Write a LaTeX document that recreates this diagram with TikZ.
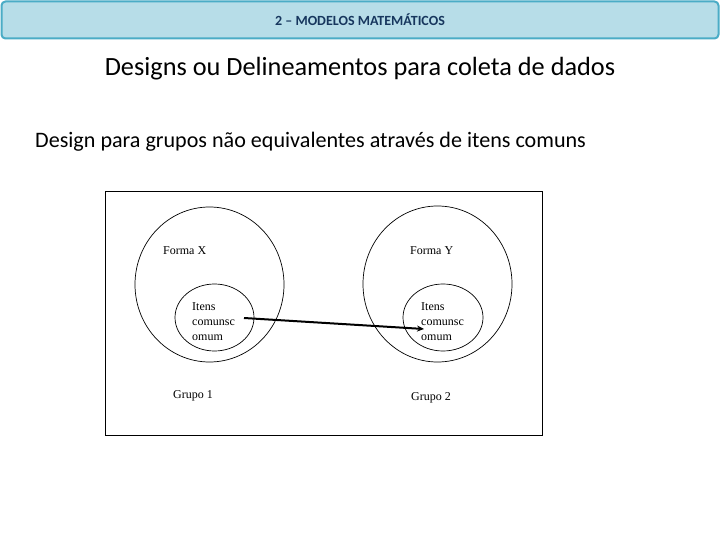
\documentclass[tikz,border=0pt]{standalone}
\usepackage{fontspec}
\setmainfont{Carlito}
\newfontfamily\serifdiag{Liberation Serif}
\usetikzlibrary{arrows.meta}
\definecolor{hdrfill}{HTML}{B7DDE8}
\definecolor{hdrline}{HTML}{4BACC6}
\definecolor{hdrtext}{HTML}{17375E}
\tikzset{
  diagtext/.style={font=\serifdiag\fontsize{12}{15}\selectfont, inner sep=0pt, anchor=west, align=left},
  ring/.style={draw=black, line width=0.7pt},
}
\begin{document}
\begin{tikzpicture}[x=1pt,y=-1pt]
\useasboundingbox (0,0) rectangle (720,540);
\fill[white] (0,0) rectangle (720,540);
% header
\node[draw=hdrline, line width=2pt, fill=hdrfill, rounded corners=4pt, minimum width=717pt, minimum height=37pt, inner sep=0pt] (hdr) at (360,20) {};
\node[font=\bfseries\fontsize{14}{16}\selectfont, text=hdrtext] (hdrt) at (360,20) {2 – MODELOS MATEMÁTICOS};
% titles
\node[font=\fontsize{26.3}{30}\selectfont] (t1) at (360,69) {Designs ou Delineamentos para coleta de dados};
\node[font=\fontsize{22.1}{26}\selectfont, anchor=west, inner sep=0pt] (t2) at (35,142) {Design para grupos não equivalentes através de itens comuns};
% frame
\node[draw=black, line width=0.8pt, minimum width=437pt, minimum height=244pt, inner sep=0pt] (frame) at (323.5,313) {};
% circles
\draw[ring] (209.5,284.5) ellipse [x radius=74.5, y radius=77.5];
\draw[ring] (214.5,317.5) ellipse [x radius=39.5, y radius=33.5];
\draw[ring] (437.5,284) ellipse [x radius=74.5, y radius=78];
\draw[ring] (443,317.5) ellipse [x radius=40, y radius=33.5];
% texts
\node[diagtext] (fx) at (163,251) {Forma X};
\node[diagtext] (fy) at (410,251) {Forma Y};
\node[diagtext] (i1) at (192,322) {Itens\\comunsc\\omum};
\node[diagtext] (i2) at (421,322) {Itens\\comunsc\\omum};
\node[diagtext] (g1) at (173,396) {Grupo 1};
\node[diagtext] (g2) at (411,398) {Grupo 2};
% arrow
\coordinate (a1) at (244,318);
\coordinate (a2) at (424,329);
\draw[line width=2pt, -{Stealth[length=7pt,width=6pt]}] (a1) -- (a2);
\end{tikzpicture}
\end{document}
